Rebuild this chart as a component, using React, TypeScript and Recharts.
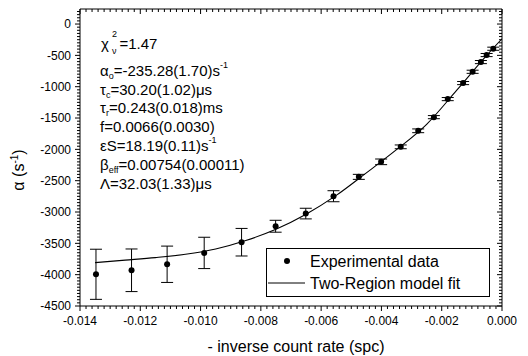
import React from "react";
import { ComposedChart, Line, Scatter, ErrorBar, XAxis, YAxis } from "recharts";

// experimental points: -1/count rate vs alpha (s^-1), with 1-sigma errors
const expX = [
  -0.01347, -0.01229, -0.01111, -0.00988, -0.00864, -0.00751, -0.00651, -0.00559, -0.00475, -0.00401,
  -0.00336, -0.00278, -0.00226, -0.0018, -0.00129, -0.000975, -0.0007, -0.00051, -0.00029,
];
const expY = [
  -3994, -3930, -3834, -3653, -3482, -3227, -3025, -2748, -2439, -2199, -1960, -1704, -1486, -1198, -942,
  -762, -607, -495, -394,
];
const expErr = [400, 340, 290, 250, 220, 95, 85, 88, 40, 45, 30, 30, 25, 25, 25, 25, 25, 25, 25];

// two-region model fit curve
const fitX = [
  -0.0135, -0.0125, -0.0115, -0.0105, -0.0095, -0.0085, -0.0075, -0.0065, -0.0055, -0.0045, -0.0035,
  -0.0025, -0.0015, -0.0005, 0,
];
const fitY = [
  -3807, -3768, -3728, -3675, -3590, -3455, -3275, -3035, -2735, -2375, -2005, -1600, -1055, -495, -235,
];

const xMajorTicks = [-0.014, -0.012, -0.01, -0.008, -0.006, -0.004, -0.002, 0];
const xTickLabels = ["-0.014", "-0.012", "-0.010", "-0.008", "-0.006", "-0.004", "-0.002", "0.000"];
const yMajorTicks = [0, -500, -1000, -1500, -2000, -2500, -3000, -3500, -4000, -4500];
const yTickLabels = ["0", "-500", "-1000", "-1500", "-2000", "-2500", "-3000", "-3500", "-4000", "-4500"];

const X_DOMAIN = [-0.014, 0];
const Y_DOMAIN = [-4500, 240];
const FONT = "'Liberation Sans', Arial, sans-serif";

// minor tick positions (Origin style)
const steps = (from: number, to: number, step: number) => {
  const out: number[] = [];
  const n = Math.round((to - from) / step);
  for (let i = 0; i <= n; i++) out.push(+(from + i * step).toFixed(6));
  return out;
};
const xTicks = steps(-0.014, 0, 0.0002);
const yTicks = steps(-4500, 200, 50);

const expData = expX.map((x, i) => ({ x, y: expY[i], err: expErr[i] }));
const fitData = fitX.map((x, i) => ({ x, y: fitY[i] }));

const isMajor = (v: number, step: number) => Math.abs(v / step - Math.round(v / step)) < 1e-6;
const len = (major: boolean) => (major ? 5 : 3);

const BottomTick = ({ x, y, payload }: any) => {
  const i = xMajorTicks.indexOf(payload.value);
  const major = isMajor(payload.value, 0.002);
  return (
    <g>
      <line x1={x} y1={y} x2={x} y2={y + len(major)} stroke="#000" />
      {i >= 0 && (
        <text x={x} y={y + 19} textAnchor="middle" fontSize={12} fontFamily={FONT} fill="#000">
          {xTickLabels[i]}
        </text>
      )}
    </g>
  );
};

const TopTick = ({ x, y, payload }: any) => {
  const major = isMajor(payload.value, 0.002);
  return <line x1={x} y1={y} x2={x} y2={y + len(major)} stroke="#000" />;
};

const LeftTick = ({ x, y, payload }: any) => {
  const i = yMajorTicks.indexOf(payload.value);
  const major = isMajor(payload.value, 500);
  return (
    <g>
      <line x1={x - len(major)} y1={y} x2={x} y2={y} stroke="#000" />
      {i >= 0 && (
        <text x={x - 9} y={y + 4.3} textAnchor="end" fontSize={12} fontFamily={FONT} fill="#000">
          {yTickLabels[i]}
        </text>
      )}
    </g>
  );
};

const RightTick = ({ x, y, payload }: any) => {
  const major = isMajor(payload.value, 500);
  return <line x1={x - len(major)} y1={y} x2={x} y2={y} stroke="#000" />;
};

const Dot = ({ cx, cy }: any) => <circle cx={cx} cy={cy} r={3} fill="#000" />;

const sub = { fontSize: 9 };

export default function App() {
  return (
    <div style={{ position: "relative", width: 520, height: 348, fontFamily: FONT }}>
      <ComposedChart width={520} height={348} data={fitData} margin={{ top: 0, right: 25, bottom: 49, left: 71 }}>
        <XAxis
          xAxisId="x"
          dataKey="x"
          type="number"
          domain={X_DOMAIN}
          allowDataOverflow
          ticks={xTicks}
          interval={0}
          tickSize={0}
          tickMargin={0}
          tickLine={false}
          tick={<BottomTick />}
          axisLine={{ stroke: "#000" }}
          height={1}
        />
        <XAxis
          xAxisId="top"
          orientation="top"
          dataKey="x"
          type="number"
          domain={X_DOMAIN}
          allowDataOverflow
          ticks={xTicks}
          interval={0}
          tickSize={0}
          tickMargin={0}
          tickLine={false}
          tick={<TopTick />}
          axisLine={{ stroke: "#000" }}
          height={1}
        />
        <YAxis
          yAxisId="y"
          dataKey="y"
          type="number"
          domain={Y_DOMAIN}
          allowDataOverflow
          ticks={yTicks}
          interval={0}
          tickSize={0}
          tickMargin={0}
          tickLine={false}
          tick={<LeftTick />}
          axisLine={{ stroke: "#000" }}
          width={1}
        />
        <YAxis
          yAxisId="right"
          orientation="right"
          dataKey="y"
          type="number"
          domain={Y_DOMAIN}
          allowDataOverflow
          ticks={yTicks}
          interval={0}
          tickSize={0}
          tickMargin={0}
          tickLine={false}
          tick={<RightTick />}
          axisLine={{ stroke: "#000" }}
          width={1}
        />
        <Line
          xAxisId="x"
          yAxisId="y"
          type="monotone"
          dataKey="y"
          stroke="#000"
          strokeWidth={1.1}
          dot={false}
          isAnimationActive={false}
        />
        <Scatter xAxisId="x" yAxisId="y" data={expData} fill="#000" shape={<Dot />} isAnimationActive={false}>
          <ErrorBar dataKey="err" direction="y" width={6} stroke="#000" strokeWidth={1} isAnimationActive={false} />
        </Scatter>
      </ComposedChart>

      <svg width={520} height={348} style={{ position: "absolute", left: 0, top: 0, pointerEvents: "none" }}>
        <g fontSize={15} fill="#000" fontFamily={FONT}>
          <text x={93} y={40.7}>
            χ<tspan dx={3} dy={-11.5} {...sub}>2</tspan>
            <tspan dx={-5} dy={17} {...sub}>ν</tspan>
            <tspan dx={3} dy={-5.5}>=1.47</tspan>
          </text>
          <text x={92} y={68.4}>
            α<tspan dy={3} {...sub}>o</tspan>
            <tspan dy={-3}>=-235.28(1.70)s</tspan>
            <tspan dy={-8} {...sub}>-1</tspan>
          </text>
          <text x={92} y={86.7}>
            τ<tspan dy={3} {...sub}>c</tspan>
            <tspan dy={-3}>=30.20(1.02)μs</tspan>
          </text>
          <text x={92} y={105.1}>
            τ<tspan dy={3} {...sub}>r</tspan>
            <tspan dy={-3}>=0.243(0.018)ms</tspan>
          </text>
          <text x={92} y={124.1}>f=0.0066(0.0030)</text>
          <text x={92} y={143.1}>
            εS=18.19(0.11)s<tspan dy={-8} {...sub}>-1</tspan>
          </text>
          <text x={92} y={161.7}>
            β<tspan dy={3} {...sub}>eff</tspan>
            <tspan dy={-3}>=0.00754(0.00011)</tspan>
          </text>
          <text x={92} y={180.7}>Λ=32.03(1.33)μs</text>
        </g>

        <text x={288} y={344} textAnchor="middle" fontSize={16} fontFamily={FONT} fill="#000">
          - inverse count rate (spc)
        </text>
        <text transform="translate(16,162) rotate(-90)" textAnchor="middle" fontSize={16} fontFamily={FONT} fill="#000">
          α (s<tspan dy={-6} fontSize={10}>-1</tspan>
          <tspan dy={6}>)</tspan>
        </text>

        <rect x={258.5} y={240.5} width={223} height={48} fill="#fff" stroke="#000" />
        <circle cx={279} cy={253} r={3} fill="#000" />
        <text x={302} y={259.4} fontSize={16} fontFamily={FONT} fill="#000">
          Experimental data
        </text>
        <line x1={260} y1={275} x2={297} y2={275} stroke="#000" />
        <text x={302} y={280.7} fontSize={16} fontFamily={FONT} fill="#000">
          Two-Region model fit
        </text>
      </svg>
    </div>
  );
}
